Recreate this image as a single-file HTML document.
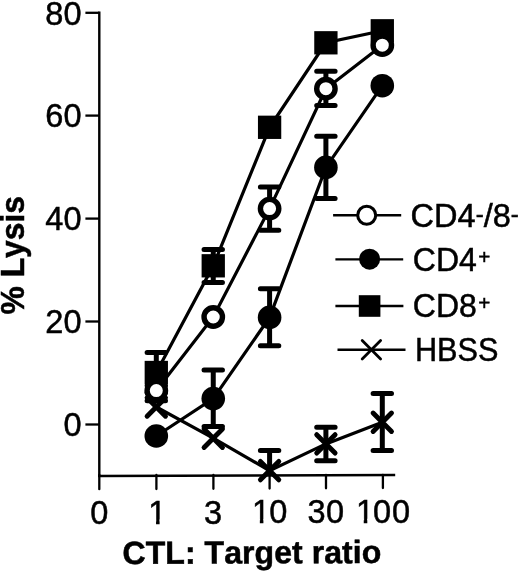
<!DOCTYPE html>
<html><head><meta charset="utf-8"><title>Lysis chart</title>
<style>html,body{margin:0;padding:0;background:#fff}svg{display:block}</style></head>
<body><svg width="520" height="573" viewBox="0 0 520 573">
<rect width="520" height="573" fill="#fff"/>
<path d="M99.3,11.6V477" stroke="#000" stroke-width="2.4" fill="none"/>
<path d="M98.1,476.1L395.2,475.05" stroke="#000" stroke-width="2.5" fill="none"/>
<path d="M85.4,12.8H99.3" stroke="#000" stroke-width="2.3"/>
<path d="M85.4,115.6H99.3" stroke="#000" stroke-width="2.3"/>
<path d="M85.4,218.6H99.3" stroke="#000" stroke-width="2.3"/>
<path d="M85.4,321.5H99.3" stroke="#000" stroke-width="2.3"/>
<path d="M85.4,424.5H99.3" stroke="#000" stroke-width="2.3"/>
<path d="M99.3,475V489.2" stroke="#000" stroke-width="2.3" stroke-linecap="round"/>
<path d="M156.4,475V488.98" stroke="#000" stroke-width="2.3" stroke-linecap="round"/>
<path d="M213.4,475V488.76" stroke="#000" stroke-width="2.3" stroke-linecap="round"/>
<path d="M269.6,475V488.54" stroke="#000" stroke-width="2.3" stroke-linecap="round"/>
<path d="M326,475V488.32" stroke="#000" stroke-width="2.3" stroke-linecap="round"/>
<path d="M382.9,475V488.09" stroke="#000" stroke-width="2.3" stroke-linecap="round"/>
<polyline points="156.3,407 213.25,438.2 269.6,470.6 325.9,443.9 382.3,422.2" fill="none" stroke="#000" stroke-width="3.2"/>
<path d="M269.6,470.6V450.5M260.40000000000003,450.5H278.8" stroke="#000" stroke-width="5.0" stroke-linecap="round" fill="none"/>
<path d="M325.9,443.9V427.3M316.7,427.3H335.09999999999997M325.9,443.9V460.8M316.7,460.8H335.09999999999997" stroke="#000" stroke-width="5.0" stroke-linecap="round" fill="none"/>
<path d="M382.3,422.2V393.4M373.1,393.4H391.5M382.3,422.2V450.4M373.1,450.4H391.5" stroke="#000" stroke-width="5.0" stroke-linecap="round" fill="none"/>
<path d="M147.10000000000002,397.8L165.5,416.2M147.10000000000002,416.2L165.5,397.8" stroke="#000" stroke-width="4.9" stroke-linecap="round" fill="none"/>
<path d="M204.05,429.0L222.45,447.4M204.05,447.4L222.45,429.0" stroke="#000" stroke-width="4.9" stroke-linecap="round" fill="none"/>
<path d="M260.40000000000003,461.40000000000003L278.8,479.8M260.40000000000003,479.8L278.8,461.40000000000003" stroke="#000" stroke-width="4.9" stroke-linecap="round" fill="none"/>
<path d="M316.7,434.7L335.09999999999997,453.09999999999997M316.7,453.09999999999997L335.09999999999997,434.7" stroke="#000" stroke-width="4.9" stroke-linecap="round" fill="none"/>
<path d="M373.1,413.0L391.5,431.4M373.1,431.4L391.5,413.0" stroke="#000" stroke-width="4.9" stroke-linecap="round" fill="none"/>
<polyline points="156.3,436.0 213.25,398.6 269.6,317.4 325.9,167.4 382.3,85.7" fill="none" stroke="#000" stroke-width="3.2"/>
<path d="M213.25,398.6V370M204.05,370H222.45M213.25,398.6V426.6M204.05,426.6H222.45" stroke="#000" stroke-width="5.0" stroke-linecap="round" fill="none"/>
<path d="M269.6,317.4V288.8M260.40000000000003,288.8H278.8M269.6,317.4V345.7M260.40000000000003,345.7H278.8" stroke="#000" stroke-width="5.0" stroke-linecap="round" fill="none"/>
<path d="M325.9,167.4V136.2M316.7,136.2H335.09999999999997M325.9,167.4V198.4M316.7,198.4H335.09999999999997" stroke="#000" stroke-width="5.0" stroke-linecap="round" fill="none"/>
<circle cx="156.3" cy="436.0" r="11.8" fill="#000"/>
<circle cx="213.25" cy="398.6" r="11.8" fill="#000"/>
<circle cx="269.6" cy="317.4" r="11.8" fill="#000"/>
<circle cx="325.9" cy="167.4" r="11.8" fill="#000"/>
<circle cx="382.3" cy="85.7" r="11.8" fill="#000"/>
<polyline points="156.3,372.5 213.25,265.8 269.6,127.3 325.9,42.8 382.3,30.8" fill="none" stroke="#000" stroke-width="3.2"/>
<path d="M156.3,372.5V352.5M147.10000000000002,352.5H165.5M156.3,372.5V392.5M147.10000000000002,392.5H165.5" stroke="#000" stroke-width="5.0" stroke-linecap="round" fill="none"/>
<path d="M213.25,265.8V249.4M204.05,249.4H222.45M213.25,265.8V282.5M204.05,282.5H222.45" stroke="#000" stroke-width="5.0" stroke-linecap="round" fill="none"/>
<rect x="144.65" y="360.85" width="23.3" height="23.3" fill="#000"/>
<rect x="201.6" y="254.15" width="23.3" height="23.3" fill="#000"/>
<rect x="257.95000000000005" y="115.64999999999999" width="23.3" height="23.3" fill="#000"/>
<rect x="314.25" y="31.15" width="23.3" height="23.3" fill="#000"/>
<rect x="370.65000000000003" y="19.15" width="23.3" height="23.3" fill="#000"/>
<polyline points="156.3,390.6 213.25,317 269.6,208.6 325.9,88.7 382.3,45.2" fill="none" stroke="#000" stroke-width="3.2"/>
<path d="M156.3,390.6V385.5M147.10000000000002,385.5H165.5M156.3,390.6V400.7M147.10000000000002,400.7H165.5" stroke="#000" stroke-width="5.0" stroke-linecap="round" fill="none"/>
<path d="M269.6,208.6V186.9M260.40000000000003,186.9H278.8M269.6,208.6V230.2M260.40000000000003,230.2H278.8" stroke="#000" stroke-width="5.0" stroke-linecap="round" fill="none"/>
<path d="M325.9,88.7V71.3M316.7,71.3H335.09999999999997M325.9,88.7V105.4M316.7,105.4H335.09999999999997" stroke="#000" stroke-width="5.0" stroke-linecap="round" fill="none"/>
<circle cx="156.3" cy="390.6" r="9.2" fill="#fff" stroke="#000" stroke-width="5.4"/>
<circle cx="213.25" cy="317" r="9.2" fill="#fff" stroke="#000" stroke-width="5.4"/>
<circle cx="269.6" cy="208.6" r="9.2" fill="#fff" stroke="#000" stroke-width="5.4"/>
<circle cx="325.9" cy="88.7" r="9.2" fill="#fff" stroke="#000" stroke-width="5.4"/>
<circle cx="382.3" cy="45.2" r="9.2" fill="#fff" stroke="#000" stroke-width="5.4"/>
<path d="M333.1,215.25H401.2M335.4,259.4H403.2M335.4,306H403.4M337.5,349.75H405.5" stroke="#000" stroke-width="2.3"/>
<circle cx="366.7" cy="215.2" r="9" fill="#fff" stroke="#000" stroke-width="3.1"/>
<circle cx="369.6" cy="259.2" r="10.5" fill="#000"/>
<rect x="358.8" y="295.2" width="21.6" height="21.6" fill="#000"/>
<path d="M362.2,340.55L380.59999999999997,358.95M362.2,358.95L380.59999999999997,340.55" stroke="#000" stroke-width="2.8" stroke-linecap="round" fill="none"/>
<text font-family="Liberation Sans, sans-serif" stroke="#000" stroke-width="0.5" style="font-kerning:none" font-size="32.5" x="410.6" y="226.7">CD4<tspan font-size="24" dy="-5.03">-</tspan><tspan dy="5.03">/8</tspan><tspan font-size="24" dy="-5.03">-</tspan></text>
<text font-family="Liberation Sans, sans-serif" stroke="#000" stroke-width="0.5" style="font-kerning:none" font-size="32.5" transform="translate(412.87,270.85) scale(0.985,1)">CD4<tspan font-size="21" x="66.39" dy="-6.82">+</tspan></text>
<text font-family="Liberation Sans, sans-serif" stroke="#000" stroke-width="0.5" style="font-kerning:none" font-size="32.5" transform="translate(412.87,317.3) scale(0.985,1)">CD8<tspan font-size="21" x="66.39" dy="-7.17">+</tspan></text>
<text font-family="Liberation Sans, sans-serif" stroke="#000" stroke-width="0.5" style="font-kerning:none" font-size="32.5" transform="translate(414.94,361) scale(0.9426,1)">HBSS</text>
<text font-family="Liberation Sans, sans-serif" stroke="#000" stroke-width="0.5" style="font-kerning:none" font-size="32.5" x="81.5" y="24.5" text-anchor="end">80</text>
<text font-family="Liberation Sans, sans-serif" stroke="#000" stroke-width="0.5" style="font-kerning:none" font-size="32.5" x="81.5" y="127.3" text-anchor="end">60</text>
<text font-family="Liberation Sans, sans-serif" stroke="#000" stroke-width="0.5" style="font-kerning:none" font-size="32.5" x="81.5" y="230.3" text-anchor="end">40</text>
<text font-family="Liberation Sans, sans-serif" stroke="#000" stroke-width="0.5" style="font-kerning:none" font-size="32.5" x="81.5" y="333.2" text-anchor="end">20</text>
<text font-family="Liberation Sans, sans-serif" stroke="#000" stroke-width="0.5" style="font-kerning:none" font-size="32.5" x="81.5" y="436.2" text-anchor="end">0</text>
<text font-family="Liberation Sans, sans-serif" stroke="#000" stroke-width="0.5" style="font-kerning:none" font-size="32.5" transform="translate(0,523.7)" x="90.34" y="0">0</text>
<text font-family="Liberation Sans, sans-serif" stroke="#000" stroke-width="0.5" style="font-kerning:none" font-size="32.5" transform="translate(0,523.5)" x="148.23" y="0">1</text>
<text font-family="Liberation Sans, sans-serif" stroke="#000" stroke-width="0.5" style="font-kerning:none" font-size="32.5" transform="translate(0,523.6)" x="203.91" y="0">3</text>
<text font-family="Liberation Sans, sans-serif" stroke="#000" stroke-width="0.5" style="font-kerning:none" font-size="32.5" transform="translate(0,523.4)" x="252.03 269.31" y="0">10</text>
<text font-family="Liberation Sans, sans-serif" stroke="#000" stroke-width="0.5" style="font-kerning:none" font-size="32.5" transform="translate(0,523.0)" x="307.46 325.94" y="0">30</text>
<text font-family="Liberation Sans, sans-serif" stroke="#000" stroke-width="0.5" style="font-kerning:none" font-size="32.5" transform="translate(0,522.9)" x="355.93 373.09 392.01" y="0">100</text>
<text font-family="Liberation Sans, sans-serif" stroke="#000" stroke-width="0.5" style="font-kerning:none" font-weight="bold" font-size="32" transform="translate(122.43,563.9) rotate(-0.2) scale(1.0046,1)">CTL: Target ratio</text>
<text font-family="Liberation Sans, sans-serif" stroke="#000" stroke-width="0.5" style="font-kerning:none" font-weight="bold" font-size="32" transform="translate(24.4,314.44) rotate(-90) scale(0.9943,1.01)">% Lysis</text>
<rect x="148.88" y="519.36" width="7.16" height="6.64" fill="#fff"/><rect x="159.6" y="519.36" width="7.83" height="6.64" fill="#fff"/>
<rect x="252.68" y="519.26" width="7.16" height="6.64" fill="#fff"/><rect x="263.4" y="519.26" width="7.83" height="6.64" fill="#fff"/>
<rect x="356.58" y="518.76" width="7.16" height="6.64" fill="#fff"/><rect x="367.3" y="518.76" width="7.83" height="6.64" fill="#fff"/>
</svg></body></html>
